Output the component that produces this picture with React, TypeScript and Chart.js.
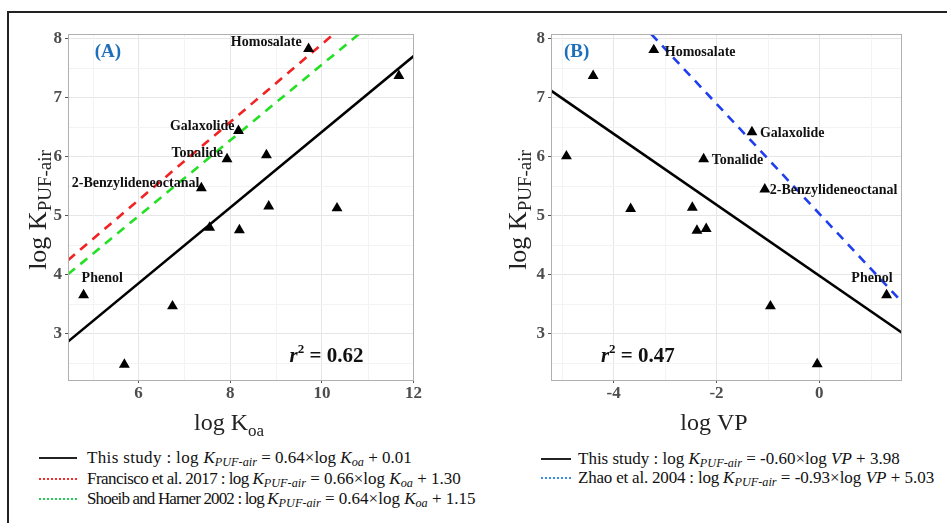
import React, { useEffect, useRef } from "react";
import { Chart, registerables } from "chart.js";
Chart.register(...registerables);

const FONT = '"Liberation Serif", "DejaVu Serif", "Times New Roman", serif';

// ---------- Panel A data: log Koa vs log K PUF-air ----------
const A_LOG_KOA = [4.8, 5.69, 6.74, 7.37, 7.55, 7.93, 8.18, 8.2, 8.79, 8.84, 9.71, 10.33, 11.68];
const A_LOG_KPUF = [3.65, 2.47, 3.46, 5.46, 4.79, 5.95, 6.43, 4.75, 6.02, 5.15, 7.82, 5.12, 7.36];
const A_X_TICKS = [6, 8, 10, 12];
const A_X_MINOR = [5, 7, 9, 11];
const A_THIS_X = [4.46, 12.01];
const A_THIS_Y = [2.86, 7.7];
const A_FRANCISCO_X = [4.46, 10.26];
const A_FRANCISCO_Y = [4.24, 8.07];
const A_SHOEIB_X = [4.46, 10.81];
const A_SHOEIB_Y = [4.0, 8.07];
const A_NAMES = ["Phenol", "2-Benzylideneoctanal", "Tonalide", "Galaxolide", "Homosalate"];
const A_NAME_IDX = [0, 3, 5, 6, 10];

// ---------- Panel B data: log VP vs log K PUF-air ----------
const B_LOG_VP = [-3.22, -4.4, -4.92, -3.67, -2.47, -2.38, -2.2, -2.25, -1.31, -1.06, -0.95, -0.04, 1.31];
const B_LOG_KPUF = [7.8, 7.36, 6.0, 5.11, 5.13, 4.74, 4.77, 5.95, 6.41, 5.44, 3.46, 2.48, 3.65];
const B_X_TICKS = [-4, -2, 0];
const B_X_MINOR = [-5, -3, -1, 1];
const B_THIS_X = [-5.22, 1.61];
const B_THIS_Y = [7.11, 3.01];
const B_ZHAO_X = [-3.27, 1.61];
const B_ZHAO_Y = [8.07, 3.53];
const B_NAMES = ["Homosalate", "Tonalide", "Galaxolide", "2-Benzylideneoctanal", "Phenol"];
const B_NAME_IDX = [0, 7, 8, 9, 12];

const Y_TICKS = [3, 4, 5, 6, 7, 8];
const Y_MINOR = [2.5, 3.5, 4.5, 5.5, 6.5, 7.5];

// label placement (style, not data)
const A_PLACE: Record<string, { dx: number; dy: number; align: CanvasTextAlign }> = {
  Phenol: { dx: -2, dy: -17, align: "left" },
  "2-Benzylideneoctanal": { dx: -2, dy: -5, align: "right" },
  Tonalide: { dx: -4, dy: -6, align: "right" },
  Galaxolide: { dx: -4, dy: -4, align: "right" },
  Homosalate: { dx: -7, dy: -6, align: "right" },
};
const B_PLACE: Record<string, { dx: number; dy: number; align: CanvasTextAlign }> = {
  Homosalate: { dx: 11, dy: 2, align: "left" },
  Tonalide: { dx: 8, dy: 1, align: "left" },
  Galaxolide: { dx: 8, dy: 1, align: "left" },
  "2-Benzylideneoctanal": { dx: 5, dy: 1, align: "left" },
  Phenol: { dx: 6, dy: -17, align: "right" },
};

type Part = { t: string; font: string; dy?: number };

function drawParts(ctx: CanvasRenderingContext2D, parts: Part[], cx: number, y: number, color: string) {
  ctx.save();
  ctx.fillStyle = color;
  ctx.textAlign = "left";
  ctx.textBaseline = "alphabetic";
  let total = 0;
  const widths = parts.map((p) => {
    ctx.font = p.font;
    const w = ctx.measureText(p.t).width;
    total += w;
    return w;
  });
  let x = cx - total / 2;
  parts.forEach((p, i) => {
    ctx.font = p.font;
    ctx.fillText(p.t, x, y + (p.dy || 0));
    x += widths[i];
  });
  ctx.restore();
}

type PanelCfg = {
  xs: number[];
  ys: number[];
  xMin: number;
  xMax: number;
  xTicks: number[];
  xMinor: number[];
  lines: { xs: number[]; ys: number[]; color: string; dash: number[] }[];
  names: string[];
  nameIdx: number[];
  place: Record<string, { dx: number; dy: number; align: CanvasTextAlign }>;
  letter: string;
  letterX: number;
  r2: string;
  r2X: number;
  xTitle: Part[];
  xTitleCx: number;
  yTitleX: number;
  yAxisWidth: number;
  padRight: number;
};

function makeChart(canvas: HTMLCanvasElement, p: PanelCfg) {
  const tickFont = { family: FONT, size: 17, weight: "bold" as const };
  const datasets: any[] = [
    {
      type: "scatter",
      data: p.xs.map((x, i) => ({ x, y: p.ys[i] })),
      pointStyle: "triangle",
      pointRadius: 6.3,
      pointHoverRadius: 6.3,
      backgroundColor: "#000",
      borderWidth: 0,
    },
    ...p.lines.map((l) => ({
      type: "line",
      data: l.xs.map((x, i) => ({ x, y: l.ys[i] })),
      borderColor: l.color,
      borderWidth: 2.6,
      borderDash: l.dash,
      pointRadius: 0,
      fill: false,
      tension: 0,
    })),
  ];

  const decor = {
    id: "decor",
    beforeDatasetsDraw(chart: any) {
      const { ctx, chartArea: a, scales } = chart;
      ctx.save();
      ctx.strokeStyle = "#f3f3f3";
      ctx.lineWidth = 1;
      p.xMinor.forEach((v) => {
        const px = Math.round(scales.x.getPixelForValue(v)) + 0.5;
        ctx.beginPath();
        ctx.moveTo(px, a.top);
        ctx.lineTo(px, a.bottom);
        ctx.stroke();
      });
      Y_MINOR.forEach((v) => {
        const py = Math.round(scales.y.getPixelForValue(v)) + 0.5;
        ctx.beginPath();
        ctx.moveTo(a.left, py);
        ctx.lineTo(a.right, py);
        ctx.stroke();
      });
      ctx.restore();
    },
    afterDatasetsDraw(chart: any) {
      const { ctx, chartArea: a, scales } = chart;
      const sx = scales.x, sy = scales.y;
      ctx.save();
      ctx.strokeStyle = "#b0b0b0";
      ctx.lineWidth = 1;
      ctx.strokeRect(Math.round(a.left) + 0.5, Math.round(a.top) + 0.5, Math.round(a.right - a.left) - 1, Math.round(a.bottom - a.top));
      // point labels
      ctx.fillStyle = "#111";
      ctx.font = `bold 14px ${FONT}`;
      ctx.textBaseline = "middle";
      p.names.forEach((name, k) => {
        const i = p.nameIdx[k];
        const pl = p.place[name];
        ctx.textAlign = pl.align;
        ctx.fillText(name, sx.getPixelForValue(p.xs[i]) + pl.dx, sy.getPixelForValue(p.ys[i]) + pl.dy);
      });
      // panel letter
      ctx.fillStyle = "#1c6fb8";
      ctx.font = `bold 19px ${FONT}`;
      ctx.textAlign = "center";
      ctx.fillText(p.letter, sx.getPixelForValue(p.letterX), sy.getPixelForValue(7.77));
      ctx.restore();
      // r2
      drawParts(
        ctx,
        [
          { t: "r", font: `italic bold 21px ${FONT}` },
          { t: "2", font: `bold 13px ${FONT}`, dy: -9 },
          { t: " = " + p.r2, font: `bold 21px ${FONT}` },
        ],
        sx.getPixelForValue(p.r2X),
        sy.getPixelForValue(2.51),
        "#111"
      );
      // x title
      drawParts(ctx, p.xTitle, p.xTitleCx, 430, "#222");
      // y title rotated
      ctx.save();
      ctx.translate(p.yTitleX, 210);
      ctx.rotate(-Math.PI / 2);
      drawParts(
        ctx,
        [
          { t: "log K", font: `26px ${FONT}` },
          { t: "PUF-air", font: `19px ${FONT}`, dy: 5 },
        ],
        0,
        0,
        "#222"
      );
      ctx.restore();
    },
  };

  return new Chart(canvas, {
    type: "scatter",
    data: { datasets },
    options: {
      animation: false,
      responsive: false,
      events: [],
      layout: { padding: { left: 0, top: 34, right: p.padRight, bottom: 30 } },
      plugins: { legend: { display: false }, tooltip: { enabled: false } },
      scales: {
        x: {
          type: "linear",
          min: p.xMin,
          max: p.xMax,
          afterBuildTicks: (s: any) => {
            s.ticks = p.xTicks.map((v) => ({ value: v }));
          },
          afterFit: (s: any) => {
            s.height = 30;
          },
          grid: { color: "#e6e6e6", lineWidth: 1, tickColor: "#555", tickLength: 3, drawTicks: true },
          border: { display: false },
          ticks: { font: tickFont, color: "#4d4d4d", padding: 0, maxRotation: 0, autoSkip: false },
        },
        y: {
          type: "linear",
          min: 2.21,
          max: 8.07,
          afterBuildTicks: (s: any) => {
            s.ticks = Y_TICKS.map((v) => ({ value: v }));
          },
          afterFit: (s: any) => {
            s.width = p.yAxisWidth;
          },
          grid: { color: "#e6e6e6", lineWidth: 1, tickColor: "#555", tickLength: 3, drawTicks: true },
          border: { display: false },
          ticks: { font: tickFont, color: "#4d4d4d", padding: 3, autoSkip: false },
        },
      },
    } as any,
    plugins: [decor],
  });
}

const panelA: PanelCfg = {
  xs: A_LOG_KOA,
  ys: A_LOG_KPUF,
  xMin: 4.46,
  xMax: 12.01,
  xTicks: A_X_TICKS,
  xMinor: A_X_MINOR,
  lines: [
    { xs: A_SHOEIB_X, ys: A_SHOEIB_Y, color: "#22e022", dash: [9, 7] },
    { xs: A_FRANCISCO_X, ys: A_FRANCISCO_Y, color: "#f22222", dash: [9, 7] },
    { xs: A_THIS_X, ys: A_THIS_Y, color: "#000", dash: [] },
  ],
  names: A_NAMES,
  nameIdx: A_NAME_IDX,
  place: A_PLACE,
  letter: "(A)",
  letterX: 5.33,
  r2: "0.62",
  r2X: 10.1,
  xTitle: [
    { t: "log K", font: `24px ${FONT}` },
    { t: "oa", font: `17px ${FONT}`, dy: 6 },
  ],
  xTitleCx: 229,
  yTitleX: 46,
  yAxisWidth: 68,
  padRight: 56,
};

const panelB: PanelCfg = {
  xs: B_LOG_VP,
  ys: B_LOG_KPUF,
  xMin: -5.22,
  xMax: 1.61,
  xTicks: B_X_TICKS,
  xMinor: B_X_MINOR,
  lines: [
    { xs: B_ZHAO_X, ys: B_ZHAO_Y, color: "#1f3fef", dash: [9, 7] },
    { xs: B_THIS_X, ys: B_THIS_Y, color: "#000", dash: [] },
  ],
  names: B_NAMES,
  nameIdx: B_NAME_IDX,
  place: B_PLACE,
  letter: "(B)",
  letterX: -4.72,
  r2: "0.47",
  r2X: -3.53,
  xTitle: [{ t: "log VP", font: `24px ${FONT}` }],
  xTitleCx: 714 - 470,
  yTitleX: 46 + 480 - 470,
  yAxisWidth: 81,
  padRight: 45,
};

const sub: React.CSSProperties = { fontSize: "0.72em", position: "relative", top: "0.28em", fontStyle: "italic" };

function KPUF() {
  return (
    <>
      <i>K</i>
      <span style={sub}>PUF-air</span>
    </>
  );
}

function LegendRow(props: {
  left: number;
  lineLeft: number;
  lineW: number;
  y: number;
  line: string;
  prefix: string;
  spacing: number;
  children: React.ReactNode;
}) {
  return (
    <>
      <div
        style={{
          position: "absolute",
          left: props.lineLeft,
          top: props.y - 1,
          width: props.lineW,
          height: 0,
          borderTop: props.line,
        }}
      />
      <div
        style={{
          position: "absolute",
          left: props.left,
          top: props.y - 11,
          height: 22,
          lineHeight: "22px",
          fontFamily: FONT,
          fontSize: 17,
          color: "#111",
          whiteSpace: "nowrap",
        }}
      >
        <span style={{ letterSpacing: props.spacing }}>{props.prefix}</span>
        {props.children}
      </div>
    </>
  );
}

export default function App() {
  const refA = useRef<HTMLCanvasElement>(null);
  const refB = useRef<HTMLCanvasElement>(null);
  useEffect(() => {
    const a = makeChart(refA.current!, panelA);
    const b = makeChart(refB.current!, panelB);
    return () => {
      a.destroy();
      b.destroy();
    };
  }, []);
  return (
    <div style={{ position: "fixed", left: 0, top: 0, width: 947, height: 523, overflow: "hidden", background: "#fff" }}>
      <div
        style={{
          position: "absolute",
          left: 7,
          top: 11,
          width: 1000,
          height: 1000,
          borderLeft: "2px solid #222",
          borderTop: "2px solid #222",
        }}
      />
      <canvas ref={refA} width={470} height={440} style={{ position: "absolute", left: 0, top: 0, width: 470, height: 440 }} />
      <canvas ref={refB} width={477} height={440} style={{ position: "absolute", left: 470, top: 0, width: 477, height: 440 }} />

      <LegendRow left={87} lineLeft={39} lineW={38} y={458} line="2.5px solid #222" prefix="This study : log " spacing={0.35}>
        <KPUF /> = 0.64×log <i>K</i>
        <span style={sub}>oa</span> + 0.01
      </LegendRow>
      <LegendRow left={87} lineLeft={39} lineW={38} y={479} line="2px dotted #ff2b2b" prefix="Francisco et al. 2017 : log " spacing={-0.55}>
        <KPUF /> = 0.66×log <i>K</i>
        <span style={sub}>oa</span> + 1.30
      </LegendRow>
      <LegendRow left={87} lineLeft={39} lineW={38} y={499} line="2px dotted #22cc55" prefix="Shoeib and Harner 2002 : log " spacing={-0.85}>
        <KPUF /> = 0.64×log <i>K</i>
        <span style={sub}>oa</span> + 1.15
      </LegendRow>

      <LegendRow left={578} lineLeft={541} lineW={30} y={459} line="2.5px solid #222" prefix="This study : log " spacing={0}>
        <KPUF /> = -0.60×log <i>VP</i> + 3.98
      </LegendRow>
      <LegendRow left={578} lineLeft={541} lineW={30} y={478} line="2px dotted #3a8ee6" prefix="Zhao et al. 2004 : log " spacing={-0.2}>
        <KPUF /> = -0.93×log <i>VP</i> + 5.03
      </LegendRow>
    </div>
  );
}
